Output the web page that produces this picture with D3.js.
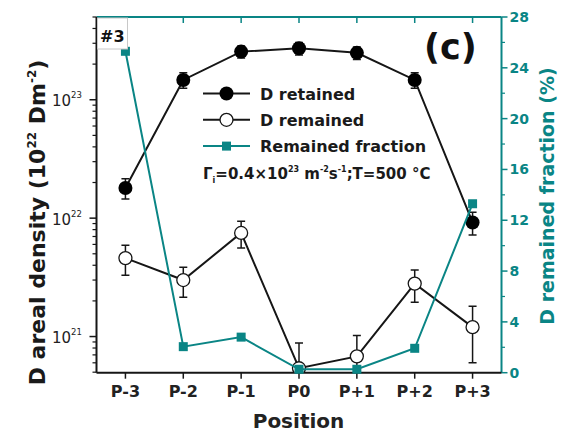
<!DOCTYPE html>
<html><head><meta charset="utf-8">
<script src="https://cdn.jsdelivr.net/npm/d3@7"></script>
<style>
body{margin:0;background:#fff}
svg text{font-family:"DejaVu Sans",Verdana,sans-serif}
</style></head>
<body><svg id="chart" width="567" height="432"></svg>
<script>
// Sample positions along the exposed surface
const positions = ["P-3", "P-2", "P-1", "P0", "P+1", "P+2", "P+3"];
// D areal density, D m^-2
const retained    = [1.8e22, 1.47e23, 2.55e23, 2.72e23, 2.49e23, 1.47e23, 9.2e21];
const retainedErr = [0.35e22, 0.22e23, 0.3e23, 0.33e23, 0.3e23, 0.22e23, 2.0e21];
const remained    = [4.6e21, 3.0e21, 7.5e21, 5.4e20, 6.8e20, 2.8e21, 1.2e21];
const remainedErr = [1.3e21, 0.85e21, 1.9e21, 3.4e20, 3.4e20, 0.85e21, 0.6e21];
// Remained fraction, %
const fraction    = [25.3, 2.05, 2.8, 0.27, 0.27, 1.92, 13.3];
const leftTicks   = [1e21, 1e22, 1e23];
const rightTicks  = [0, 4, 8, 12, 16, 20, 24, 28];

const teal = "#0a8585", ink = "#161616";
const svg = d3.select("#chart");
const box = {l: 96.5, r: 501.5, t: 17, b: 372.7};

const x  = d3.scalePoint().domain(positions).range([box.l, box.r]).padding(0.5);
const yL = d3.scaleLog().domain([4.95e20, 5e23]).range([box.b, box.t]);
const yR = d3.scaleLinear().domain([0, 28]).range([box.b, box.t]);

svg.append("defs").append("clipPath").attr("id", "plotclip")
  .append("rect").attr("x", box.l).attr("y", box.t)
  .attr("width", box.r - box.l).attr("height", box.b - box.t);

// ---- axes frame ----
// top axis (teal, inward ticks)
svg.append("line").attr("x1", box.l).attr("x2", box.r).attr("y1", box.t).attr("y2", box.t)
  .attr("stroke", teal).attr("stroke-width", 2);
svg.selectAll(".ttick").data(positions).join("line")
  .attr("x1", d => x(d)).attr("x2", d => x(d)).attr("y1", box.t).attr("y2", box.t + 6)
  .attr("stroke", teal).attr("stroke-width", 1.5);

// right axis (teal)
svg.append("line").attr("x1", box.r).attr("x2", box.r).attr("y1", box.t).attr("y2", box.b)
  .attr("stroke", teal).attr("stroke-width", 2);
const rMinor = d3.range(2, 28, 4);
svg.selectAll(".rtick").data(rightTicks).join("line")
  .attr("x1", box.r).attr("x2", box.r + 6).attr("y1", d => yR(d)).attr("y2", d => yR(d))
  .attr("stroke", teal).attr("stroke-width", 1.5);
svg.selectAll(".rminor").data(rMinor).join("line")
  .attr("x1", box.r).attr("x2", box.r + 3.5).attr("y1", d => yR(d)).attr("y2", d => yR(d))
  .attr("stroke", teal).attr("stroke-width", 1.2);
svg.selectAll(".rlab").data(rightTicks).join("text")
  .attr("x", box.r + 8).attr("y", d => yR(d) + 5)
  .attr("font-size", 14).attr("font-weight", "bold").attr("fill", teal)
  .text(d => d);

// left axis (log)
svg.append("line").attr("x1", box.l).attr("x2", box.l).attr("y1", box.t).attr("y2", box.b)
  .attr("stroke", ink).attr("stroke-width", 2);
const lMinor = yL.ticks().filter(v => {
  const e = Math.round(v / Math.pow(10, Math.floor(Math.log10(v) + 1e-9)));
  return e !== 1;
});
svg.selectAll(".lminor").data(lMinor).join("line")
  .attr("x1", box.l - 4).attr("x2", box.l).attr("y1", d => yL(d)).attr("y2", d => yL(d))
  .attr("stroke", ink).attr("stroke-width", 1.2);
svg.selectAll(".ltick").data(leftTicks).join("line")
  .attr("x1", box.l - 7).attr("x2", box.l).attr("y1", d => yL(d)).attr("y2", d => yL(d))
  .attr("stroke", ink).attr("stroke-width", 1.5);
const llab = svg.selectAll(".llab").data(leftTicks).join("text")
  .attr("x", 52).attr("y", d => yL(d) + 6.5)
  .attr("font-size", 15).attr("fill", "#222");
llab.append("tspan").text("10");
llab.append("tspan").attr("dy", -8).attr("font-size", 8.5)
  .text(d => Math.round(Math.log10(d)));

// bottom axis
svg.append("line").attr("x1", box.l).attr("x2", box.r).attr("y1", box.b).attr("y2", box.b)
  .attr("stroke", ink).attr("stroke-width", 2);
svg.selectAll(".btick").data(positions).join("line")
  .attr("x1", d => x(d)).attr("x2", d => x(d)).attr("y1", box.b).attr("y2", box.b + 6)
  .attr("stroke", ink).attr("stroke-width", 1.5);
svg.selectAll(".blab").data(positions).join("text")
  .attr("x", d => x(d)).attr("y", 397).attr("text-anchor", "middle")
  .attr("font-size", 16).attr("font-weight", "bold").attr("fill", "#222")
  .text(d => d);

// axis titles
svg.append("text").attr("x", 298.5).attr("y", 428).attr("text-anchor", "middle")
  .attr("font-size", 20).attr("font-weight", "bold").attr("fill", "#222").text("Position");

const lt = svg.append("text").attr("transform", "translate(45,222.5) rotate(-90)")
  .attr("text-anchor", "middle").attr("font-size", 22).attr("font-weight", "bold").attr("fill", "#1a1a1a");
lt.append("tspan").text("D areal density (10");
lt.append("tspan").attr("dy", -9).attr("font-size", 12).text("22");
lt.append("tspan").attr("dy", 9).text(" Dm");
lt.append("tspan").attr("dy", -9).attr("font-size", 12).text("-2");
lt.append("tspan").attr("dy", 9).text(")");

svg.append("text").attr("transform", "translate(554,196) rotate(-90)")
  .attr("text-anchor", "middle").attr("font-size", 19).attr("font-weight", "bold").attr("fill", teal)
  .text("D remained fraction (%)");

// ---- data ----
const plot = svg.append("g").attr("clip-path", "url(#plotclip)");
const lineL = vals => d3.line().x((d, i) => x(positions[i])).y(d => yL(d))(vals);
const lineR = d3.line().x((d, i) => x(positions[i])).y(d => yR(d));

function errorBars(vals, errs) {
  const g = plot.append("g").attr("stroke", ink).attr("stroke-width", 1.5);
  vals.forEach((v, i) => {
    const cx = x(positions[i]);
    const lo = Math.max(v - errs[i], 1e19), hi = v + errs[i];
    g.append("line").attr("x1", cx).attr("x2", cx).attr("y1", yL(lo)).attr("y2", yL(hi));
    [lo, hi].forEach(e => g.append("line").attr("x1", cx - 4).attr("x2", cx + 4)
      .attr("y1", yL(e)).attr("y2", yL(e)));
  });
}

// D remained (open circles)
errorBars(remained, remainedErr);
plot.append("path").attr("d", lineL(remained)).attr("fill", "none")
  .attr("stroke", ink).attr("stroke-width", 2);
plot.selectAll(".rem").data(remained).join("circle")
  .attr("cx", (d, i) => x(positions[i])).attr("cy", d => yL(d)).attr("r", 6.5)
  .attr("fill", "#fff").attr("stroke", ink).attr("stroke-width", 1.3);

// D retained (filled circles)
errorBars(retained, retainedErr);
plot.append("path").attr("d", lineL(retained)).attr("fill", "none")
  .attr("stroke", ink).attr("stroke-width", 2);
plot.selectAll(".ret").data(retained).join("circle")
  .attr("cx", (d, i) => x(positions[i])).attr("cy", d => yL(d)).attr("r", 7)
  .attr("fill", "#000");

// Remained fraction (teal squares, right axis)
svg.append("path").attr("d", lineR(fraction)).attr("fill", "none")
  .attr("stroke", teal).attr("stroke-width", 2);
svg.selectAll(".frac").data(fraction).join("rect")
  .attr("x", (d, i) => x(positions[i]) - 4.5).attr("y", d => yR(d) - 4.5)
  .attr("width", 9).attr("height", 9).attr("fill", teal);

// ---- sample tag and panel letter ----
svg.append("rect").attr("x", 97.5).attr("y", 18).attr("width", 30).attr("height", 31)
  .attr("fill", "#fff").attr("stroke", "#c8c8c8").attr("stroke-width", 1);
svg.append("text").attr("x", 100).attr("y", 42).attr("font-size", 16)
  .attr("font-weight", "bold").attr("fill", "#111").text("#3");
svg.append("text").attr("x", 424).attr("y", 59).attr("font-size", 35)
  .attr("font-weight", "bold").attr("fill", "#111").text("(c)");

// ---- legend ----
const legend = [
  {label: "D retained", color: ink, mark: "fill"},
  {label: "D remained", color: ink, mark: "open"},
  {label: "Remained fraction", color: teal, mark: "square"}
];
const lg = svg.append("g");
legend.forEach((d, i) => {
  const cy = 93.5 + i * 26.3;
  lg.append("line").attr("x1", 203).attr("x2", 250).attr("y1", cy).attr("y2", cy)
    .attr("stroke", d.color).attr("stroke-width", 2);
  if (d.mark === "fill") lg.append("circle").attr("cx", 226.5).attr("cy", cy).attr("r", 7).attr("fill", "#000");
  if (d.mark === "open") lg.append("circle").attr("cx", 226.5).attr("cy", cy).attr("r", 6.5)
    .attr("fill", "#fff").attr("stroke", ink).attr("stroke-width", 1.3);
  if (d.mark === "square") lg.append("rect").attr("x", 222).attr("y", cy - 4.5)
    .attr("width", 9).attr("height", 9).attr("fill", teal);
  lg.append("text").attr("x", 260).attr("y", cy + 6).attr("font-size", 16)
    .attr("font-weight", "bold").attr("fill", "#1a1a1a").text(d.label);
});

// flux and temperature note
const note = svg.append("text").attr("x", 203).attr("y", 179).attr("font-size", 15)
  .attr("font-weight", "bold").attr("fill", "#1a1a1a");
note.append("tspan").text("Γ");
note.append("tspan").attr("dy", 4).attr("font-size", 8).text("i");
note.append("tspan").attr("dy", -4).text("=0.4×10");
note.append("tspan").attr("dy", -7).attr("font-size", 8).text("23");
note.append("tspan").attr("dy", 7).text(" m");
note.append("tspan").attr("dy", -7).attr("font-size", 8).text("-2");
note.append("tspan").attr("dy", 7).text("s");
note.append("tspan").attr("dy", -7).attr("font-size", 8).text("-1");
note.append("tspan").attr("dy", 7).text(";T=500 °C");
</script>
</body></html>
